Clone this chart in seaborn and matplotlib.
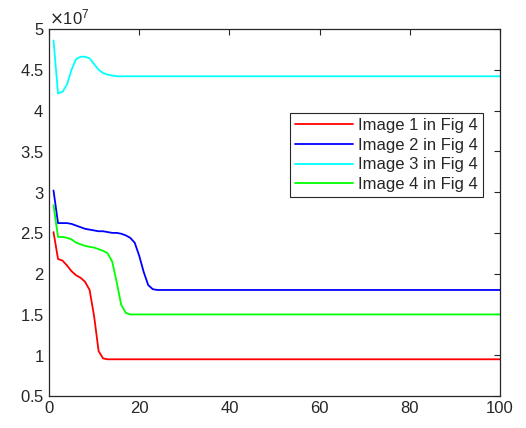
import pandas as pd
import matplotlib
matplotlib.use("Agg")
import matplotlib.pyplot as plt
import matplotlib.ticker as mticker
import seaborn as sns

# x positions: iterations 1..25, then last iteration (values stay flat afterwards)
iters = list(range(1, 26)) + [100]

# values in units of 1e7
image1 = [2.51, 2.18, 2.16, 2.10, 2.03, 1.98, 1.95, 1.90, 1.80, 1.48,
          1.05, 0.96, 0.95, 0.95, 0.95, 0.95, 0.95, 0.95, 0.95, 0.95,
          0.95, 0.95, 0.95, 0.95, 0.95, 0.95]
image2 = [3.02, 2.62, 2.62, 2.62, 2.61, 2.59, 2.57, 2.55, 2.54, 2.53,
          2.52, 2.52, 2.51, 2.50, 2.50, 2.49, 2.47, 2.44, 2.38, 2.22,
          2.02, 1.86, 1.81, 1.80, 1.80, 1.80]
image3 = [4.86, 4.21, 4.23, 4.32, 4.50, 4.63, 4.66, 4.66, 4.64, 4.57,
          4.50, 4.46, 4.44, 4.43, 4.42, 4.42, 4.42, 4.42, 4.42, 4.42,
          4.42, 4.42, 4.42, 4.42, 4.42, 4.42]
image4 = [2.84, 2.45, 2.45, 2.44, 2.42, 2.38, 2.36, 2.34, 2.33, 2.32,
          2.30, 2.28, 2.25, 2.15, 1.90, 1.62, 1.52, 1.50, 1.50, 1.50,
          1.50, 1.50, 1.50, 1.50, 1.50, 1.50]

labels = ["Image 1 in Fig 4", "Image 2 in Fig 4", "Image 3 in Fig 4", "Image 4 in Fig 4"]
colors = ["#ff0000", "#0000ff", "#00ffff", "#00ff00"]

xticks = [0, 20, 40, 60, 80, 100]
yticks = [0.5, 1, 1.5, 2, 2.5, 3, 3.5, 4, 4.5, 5]


class ShortFormatter(mticker.ScalarFormatter):
    # like matlab: "5", "4.5" instead of "5.0", "4.5"
    def _set_format(self):
        self.format = "%g"
        if self._useMathText:
            self.format = r"$\mathdefault{%s}$" % self.format


# long-form table for seaborn
frames = []
for lab, vals in zip(labels, [image1, image2, image3, image4]):
    frames.append(pd.DataFrame({"x": iters, "y": [v * 1e7 for v in vals], "series": lab}))
df = pd.concat(frames, ignore_index=True)

sns.set_style("white")
plt.rcParams["font.family"] = ["Liberation Sans", "DejaVu Sans"]
plt.rcParams["font.size"] = 12

fig = plt.figure(figsize=(5.26, 4.28), dpi=100)
ax = fig.add_axes([49 / 526, 32 / 428, 451 / 526, 367 / 428])

sns.lineplot(data=df, x="x", y="y", hue="series", hue_order=labels,
             palette=colors, linewidth=1.3, ax=ax)

ax.set_xlim(0, 100)
ax.set_ylim(0.5e7, 5e7)
ax.set_xticks(xticks)
ax.set_yticks([t * 1e7 for t in yticks])

fmt = ShortFormatter(useMathText=True)
fmt.set_powerlimits((0, 0))
ax.yaxis.set_major_formatter(fmt)
ax.yaxis.get_offset_text().set_fontsize(12)
ax.yaxis.get_offset_text().set_color("#262626")

ax.set_xlabel("")
ax.set_ylabel("")
ax.tick_params(direction="in", length=4, width=0.8, colors="#262626",
               top=True, right=True, labelsize=12, labelcolor="#262626")
for sp in ax.spines.values():
    sp.set_color("#262626")
    sp.set_linewidth(0.9)

leg = ax.legend(loc="upper right", bbox_to_anchor=(0.962, 0.771), borderaxespad=0,
                frameon=True, fancybox=False, edgecolor="#262626", framealpha=1,
                handlelength=3.5, handletextpad=0.3, labelspacing=0.28,
                borderpad=0.3, fontsize=12)
leg.get_frame().set_linewidth(0.8)

fig.savefig("out.png", dpi=100)
plt.close(fig)
